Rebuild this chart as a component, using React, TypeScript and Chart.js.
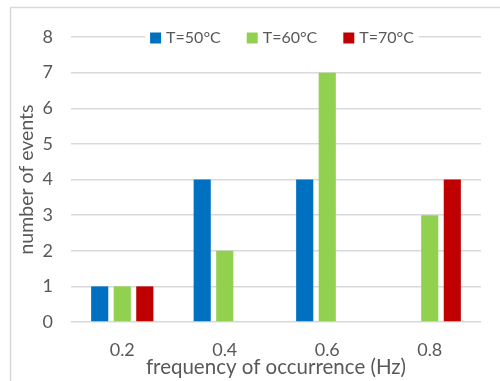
import React, { useEffect, useRef } from "react";
import { Chart, registerables } from "chart.js";

Chart.register(...registerables);

const categories = ["0.2", "0.4", "0.6", "0.8"];
const seriesLabels = ["T=50°C", "T=60°C", "T=70°C"];
const t50 = [1, 4, 4, 0];
const t60 = [1, 2, 7, 3];
const t70 = [1, 0, 0, 4];
const colors = ["#0070C0", "#92D050", "#C00000"];
const yTicks = [0, 1, 2, 3, 4, 5, 6, 7, 8];

const FONT = "Lato";
const TEXT = "#595959";
const GRID = "#d9d9d9";

const framePlugin = {
  id: "frame",
  beforeDraw(chart: any) {
    const ctx = chart.ctx;
    ctx.save();
    ctx.fillStyle = "#ffffff";
    ctx.fillRect(0, 0, chart.width, chart.height);
    ctx.strokeStyle = GRID;
    ctx.lineWidth = 1.5;
    ctx.beginPath();
    ctx.moveTo(10.5, chart.height + 5);
    ctx.lineTo(10.5, 7.5);
    ctx.lineTo(chart.width + 5, 7.5);
    ctx.stroke();
    ctx.restore();
  },
};

const legendPlugin = {
  id: "customLegend",
  afterDraw(chart: any) {
    const ctx = chart.ctx;
    ctx.save();
    ctx.font = `16px ${FONT}`;
    const box = 11;
    const gapText = 5;
    const gapItem = 26;
    const items = chart.data.datasets.map((d: any) => ({
      label: d.label,
      color: d.backgroundColor,
      w: ctx.measureText(d.label).width,
    }));
    let total = 0;
    items.forEach((it: any, i: number) => {
      total += box + gapText + it.w + (i < items.length - 1 ? gapItem : 0);
    });
    const ca = chart.chartArea;
    const cx = (ca.left + ca.right) / 2 + 6;
    const cy = ca.top + 1;
    let x = cx - total / 2;
    ctx.fillStyle = "#ffffff";
    ctx.fillRect(x - 5, cy - 9, total + 10, 18);
    ctx.textBaseline = "middle";
    ctx.textAlign = "left";
    items.forEach((it: any) => {
      ctx.fillStyle = it.color;
      ctx.fillRect(x, cy - box / 2, box, box);
      x += box + gapText;
      ctx.fillStyle = TEXT;
      ctx.fillText(it.label, x, cy);
      x += it.w + gapItem;
    });
    ctx.restore();
  },
};

export default function App() {
  const ref = useRef<HTMLCanvasElement | null>(null);

  useEffect(() => {
    document.body.style.margin = "0";
    const canvas = ref.current;
    if (!canvas) return;
    const chart = new Chart(canvas, {
      type: "bar",
      data: {
        labels: categories,
        datasets: [
          { label: seriesLabels[0], data: t50, backgroundColor: colors[0] },
          { label: seriesLabels[1], data: t60, backgroundColor: colors[1] },
          { label: seriesLabels[2], data: t70, backgroundColor: colors[2] },
        ],
      },
      options: {
        responsive: false,
        animation: false,
        events: [],
        datasets: {
          bar: { categoryPercentage: 0.66, barPercentage: 0.76, borderWidth: 0 },
        },
        layout: { padding: { left: 10, right: 19, top: 37, bottom: 0 } },
        plugins: { legend: { display: false }, tooltip: { enabled: false } },
        scales: {
          x: {
            grid: { display: false },
            border: { display: false },
            ticks: { color: TEXT, font: { family: FONT, size: 18 }, padding: 9 },
            title: {
              display: true,
              text: "frequency of occurrence (Hz)",
              color: TEXT,
              font: { family: FONT, size: 20.5 },
              padding: { top: 2, bottom: 1 },
            },
            afterFit(scale: any) {
              scale.height = 59;
            },
          },
          y: {
            min: 0,
            max: 8,
            afterBuildTicks(scale: any) {
              scale.ticks = yTicks.map((v) => ({ value: v }));
            },
            grid: { color: GRID, lineWidth: 1.5, drawTicks: false },
            border: { display: false },
            ticks: { color: TEXT, font: { family: FONT, size: 18 }, padding: 18 },
            title: {
              display: true,
              text: "number of events",
              color: TEXT,
              font: { family: FONT, size: 19.5 },
              padding: { top: 5, bottom: 5 },
            },
            afterFit(scale: any) {
              scale.width = 61;
            },
          },
        },
      },
      plugins: [framePlugin, legendPlugin],
    });
    return () => chart.destroy();
  }, []);

  return <canvas ref={ref} width={500} height={381} style={{ display: "block" }} />;
}
